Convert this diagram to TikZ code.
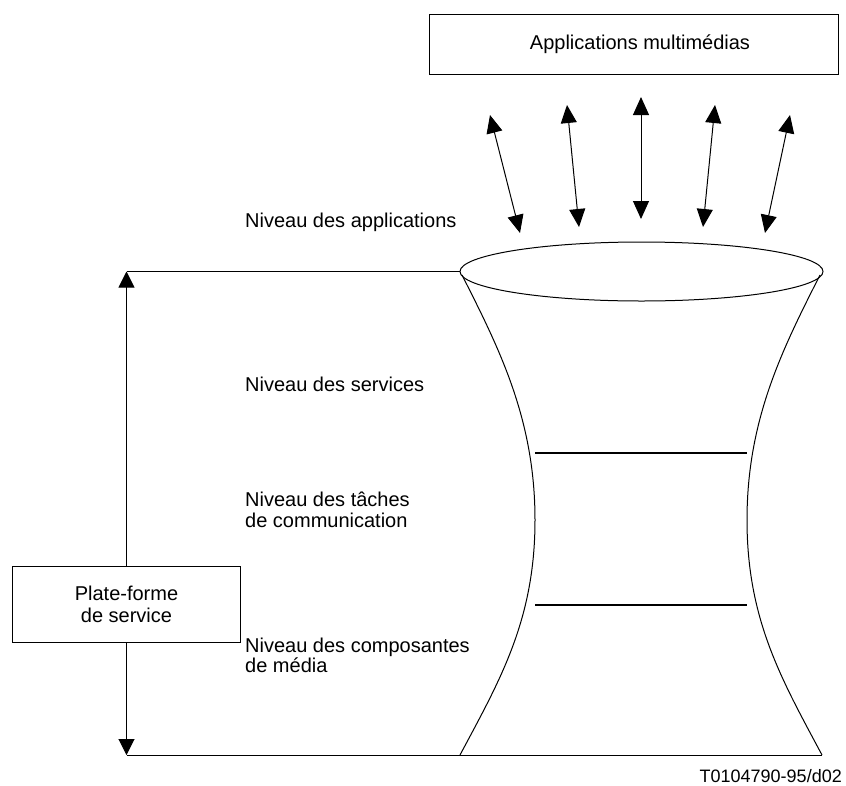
\documentclass[tikz,border=0pt]{standalone}
\usepackage{fontspec}
\setmainfont{Liberation Sans}
\usetikzlibrary{shapes.geometric,arrows.meta}

\begin{document}
\begin{tikzpicture}[x=1pt,y=-1pt,
  thin line/.style={line width=1pt},
  level line/.style={line width=2pt},
  dbl arrow/.style={line width=1pt,{Triangle[width=16pt,length=18pt]}-{Triangle[width=16pt,length=18pt]}},
  tip arrow/.style={line width=1pt,-{Triangle[width=16pt,length=16pt]}},
  box/.style={draw,line width=1pt,inner sep=0pt,font=\fontsize{20}{22}\selectfont,align=center},
  label text/.style={inner sep=0pt,anchor=base west,align=left,font=\fontsize{20}{20.5}\selectfont}]
\useasboundingbox (0,0) rectangle (846,785);

% application box and the top rim of the funnel
\node[box,minimum width=409pt,minimum height=60pt] (apps) at (633.5,44) {\hspace*{13pt}Applications multimédias};
\node[draw,thin line,ellipse,minimum width=363pt,minimum height=59pt,inner sep=0pt] (rim) at (641.5,271.5) {};

% end points of the five exchange arrows
\coordinate (a1t) at (490,115);   \coordinate (a1b) at (520,233);
\coordinate (a2t) at (567,105);   \coordinate (a2b) at (579,227);
\coordinate (a3t) at (641,97);    \coordinate (a3b) at (641,219);
\coordinate (a4t) at (715,105);   \coordinate (a4b) at (703,227);
\coordinate (a5t) at (790,115);   \coordinate (a5b) at (765,233);
\foreach \i in {1,...,5} \draw[dbl arrow] (a\i t) -- (a\i b);

% funnel sides
\coordinate (lt) at (462,275);  \coordinate (lw) at (535,520);  \coordinate (lb) at (460,755);
\coordinate (rt) at (820,275);  \coordinate (rw) at (747,520);  \coordinate (rb) at (822,755);
\draw[thin line] (lt) .. controls (500,350) and (535,420) .. (lw)
                      .. controls (535,620) and (500,680) .. (lb);
\draw[thin line] (rt) .. controls (782,350) and (747,420) .. (rw)
                      .. controls (747,620) and (782,680) .. (rb);

% separations between the levels
\coordinate (s1l) at (535,452.5);  \coordinate (s1r) at (747,452.5);
\coordinate (s2l) at (535,604.5);  \coordinate (s2r) at (747,604.5);
\draw[level line] (s1l) -- (s1r);
\draw[level line] (s2l) -- (s2r);

% service platform extent
\node[box,minimum width=228pt,minimum height=76pt] (psf) at (126.5,604) {Plate-forme\\de service};
\coordinate (vt) at (126.5,271.5);
\coordinate (vb) at (126.5,755);
\draw[thin line] (vt) -- (rim.west);
\draw[thin line] (vb) -- (rb);
\draw[tip arrow] (psf.north) -- (vt);
\draw[tip arrow] (psf.south) -- (vb);

% level names
\node[label text] (lapp) at (245,227) {Niveau des applications};
\node[label text] (lsrv) at (245,391) {Niveau des services};
\node[label text] (ltch) at (245,527) {Niveau des tâches\\de communication};
\node[label text] (lmed) at (245,672.5) {Niveau des composantes\\de média};

\node[inner sep=0pt,anchor=base east,font=\fontsize{18}{18}\selectfont] (ref) at (842,782) {T0104790-95/d02};
\end{tikzpicture}
\end{document}
